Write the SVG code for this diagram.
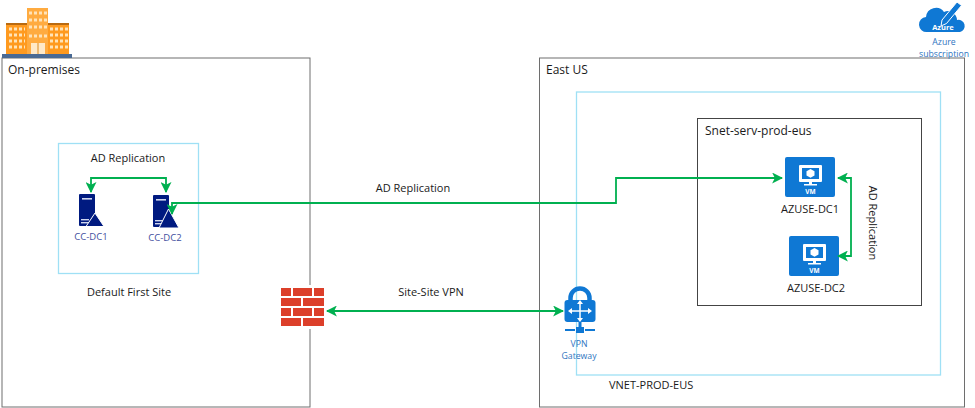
<svg xmlns="http://www.w3.org/2000/svg" width="975" height="408" viewBox="0 0 975 408">
<defs>
<marker id="ah" viewBox="0 0 10 10" refX="9" refY="5" markerWidth="11" markerHeight="11" markerUnits="userSpaceOnUse" orient="auto-start-reverse"><path d="M0 0L10 5L0 10L2.500 5Z" fill="#00b050"/></marker>
<g id="srv"><rect x="0" y="0" width="16" height="32" rx="1" fill="#001a80"/><rect x="3" y="4" width="10" height="1.600" fill="#cfd6ee"/><rect x="2" y="25" width="8" height="1.400" fill="#cfd6ee"/><rect x="2" y="28" width="8" height="1.400" fill="#cfd6ee"/></g>
<g id="vm"><rect x="0" y="0" width="50" height="40" rx="2" fill="#0f78d4"/><rect x="14" y="8" width="23" height="17" rx="1" fill="#fff"/><rect x="17" y="11" width="17" height="11" fill="#0f78d4"/><path d="M25.500 12l4 2.200v4.400l-4 2.200-4-2.200v-4.400z" fill="#fff"/><rect x="24" y="25" width="3" height="2" fill="#fff"/><rect x="19" y="27" width="13" height="1.500" fill="#fff"/><text x="25.500" y="36.500" class="vm">VM</text></g>
</defs>
<style>
text{font-family:"Open Sans","Noto Sans","Liberation Sans",sans-serif;fill:#1a1a1a}
.l{font-size:11px}
.w{font-size:12px}
.m{text-anchor:middle}
.b{font-size:8.700px;fill:#2f74c0;text-anchor:middle}
.n{font-size:9.500px;fill:#3f4fa0;text-anchor:middle}
.vm{font-size:6.500px;font-weight:700;fill:#fff;text-anchor:middle}
.box{fill:none;stroke:#6e6e6e;stroke-width:1}
.sky{fill:none;stroke:#9fe0f5;stroke-width:1.300}
.c{fill:none;stroke:#00b050;stroke-width:1.800;marker-end:url(#ah)}
.c2{marker-start:url(#ah)}
.wall{fill:#dc3f2a}
</style>
<rect width="975" height="408" fill="#fff"/>

<g id="on-premises">
<rect class="box" x="2" y="58" width="308" height="349"/>
<text class="w" x="8" y="74">On-premises</text>
<text class="l m" x="129" y="296">Default First Site</text>
</g>
<g id="building">
<rect x="2" y="54" width="70" height="4" fill="#4a6a94"/>
<rect x="6" y="23" width="21" height="31" fill="#ff9a1f"/>
<rect x="48" y="23" width="21" height="31" fill="#ff9a1f"/>
<rect x="6" y="23" width="63" height="2" fill="#b96a10"/>
<rect x="27" y="8" width="21" height="46" fill="#ffab40"/>
<g fill="none" stroke="#ffe3b8" stroke-width="3" stroke-dasharray="3 2">
<path d="M9 29h16M9 35h16M9 41h16M9 47h16M50 29h18M50 35h18M50 41h18M50 47h18M29 13h18M29 20h18M29 27h18M29 36h18"/>
</g>
<rect x="31" y="43" width="14" height="11" fill="#ffe9c8"/>
<path d="M38 43v11" stroke="#d98a20" stroke-width="1"/>
</g>

<g id="east-us">
<rect class="box" x="539.500" y="58" width="425" height="349"/>
<text class="w" x="546" y="74">East US</text>
</g>
<g id="vnet">
<rect class="sky" x="576.500" y="92" width="364" height="283"/>
<text class="l" x="609" y="389">VNET-PROD-EUS</text>
</g>
<g id="snet">
<rect x="697.500" y="118.500" width="224" height="187" fill="none" stroke="#444" stroke-width="1"/>
<text class="w" x="705" y="135">Snet-serv-prod-eus</text>
</g>
<g id="ad-site">
<rect class="sky" x="58.500" y="143.500" width="140" height="130"/>
<text class="l m" x="128" y="162">AD Replication</text>
</g>

<g id="cc-dc1"><use href="#srv" x="79" y="194"/><path d="M86 226.500L95 213L104 226.500Z" fill="#001a80" stroke="#fff" stroke-width="1"/><text class="n" x="91" y="240">CC-DC1</text></g>
<g id="cc-dc2"><use href="#srv" x="153" y="195"/><path d="M159 228L168.500 209L179 228Z" fill="#001a80" stroke="#fff" stroke-width="1"/><text class="n" x="165" y="241">CC-DC2</text></g>

<g id="azuse-dc1"><use href="#vm" x="785" y="157"/><text class="l m" x="810" y="213">AZUSE-DC1</text></g>
<g id="azuse-dc2"><use href="#vm" x="789" y="236"/><text class="l m" x="816" y="292">AZUSE-DC2</text></g>

<g id="firewall">
<rect x="279" y="285" width="47" height="44" fill="#fff"/>
<rect class="wall" x="281" y="288" width="10" height="8"/><rect class="wall" x="293" y="288" width="19" height="8"/><rect class="wall" x="314" y="288" width="10" height="8"/>
<rect class="wall" x="281" y="298" width="20" height="8"/><rect class="wall" x="303" y="298" width="21" height="8"/>
<rect class="wall" x="281" y="308" width="10" height="8"/><rect class="wall" x="293" y="308" width="19" height="8"/><rect class="wall" x="314" y="308" width="10" height="8"/>
<rect class="wall" x="281" y="318" width="20" height="8"/><rect class="wall" x="303" y="318" width="21" height="8"/>
</g>

<g id="vpn-gateway">
<path d="M570.500 304V298a9.500 9.500 0 0 1 19 0V304" fill="none" stroke="#0f78d4" stroke-width="4.500"/>
<rect x="564.500" y="300" width="31" height="22" rx="3" fill="#0f78d4"/>
<g fill="none" stroke="#fff" stroke-width="1.500"><path d="M572 311h16M580 304v14"/></g>
<path d="M568 311l4-3v6zM592 311l-4-3v6zM580 300l3 4h-6zM580 322l3-4h-6z" fill="#fff"/>
<rect x="578.500" y="322" width="3" height="5" fill="#0f78d4"/>
<rect x="576" y="327" width="8" height="6" fill="#0f78d4"/>
<path d="M565 330h10M585 330h10" stroke="#0f78d4" stroke-width="2"/>
<text class="b" x="579" y="347">VPN</text>
<text class="b" x="579" y="359">Gateway</text>
</g>

<g id="azure-subscription">
<path d="M927 32a7.500 7.500 0 0 1-1-15a10 10 0 0 1 18-5a9 9 0 0 1 13 8a6 6 0 0 1 3 12Z" fill="#0f78d4"/>
<path d="M942 20l15-18l4.500 3.500l-15 18l-5.500 2.500z" fill="#0f78d4" stroke="#fff" stroke-width="1"/>
<text x="943" y="30" style="font-size:7.500px;font-weight:700;fill:#fff;text-anchor:middle">Azure</text>
<text class="b" x="944" y="44.500">Azure</text>
<text class="b" x="944" y="56.500">subscription</text>
</g>

<g id="connectors">
<path class="c c2" d="M91 192V178H166V192"/>
<path class="c c2" d="M172 214V203H616V178H782"/>
<path class="c c2" d="M838 178H851V256H838"/>
<path class="c c2" d="M327 311H563"/>
</g>

<g id="labels">
<text class="l m" x="413" y="192">AD Replication</text>
<text class="l m" x="431" y="296">Site-Site VPN</text>
<text class="l m" transform="translate(869 223) rotate(90)">AD Replication</text>
</g>
</svg>
